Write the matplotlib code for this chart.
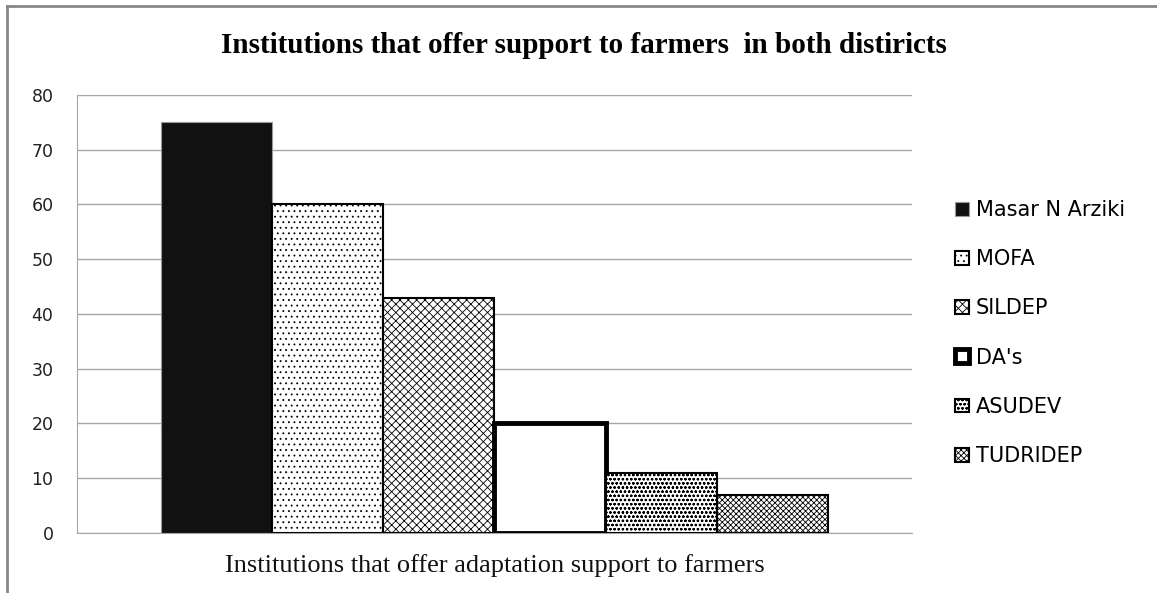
import matplotlib
matplotlib.use("Agg")
import matplotlib.pyplot as plt
from matplotlib.lines import Line2D
import numpy as np

categories = ["Masar N Arziki", "MOFA", "SILDEP", "DA's", "ASUDEV", "TUDRIDEP"]
values = [75, 60, 43, 20, 11, 7]
yticks = [0, 10, 20, 30, 40, 50, 60, 70, 80]
title = "Institutions that offer support to farmers  in both distiricts"
xlabel = "Institutions that offer adaptation support to farmers"

styles = [
    dict(facecolor="#111111", edgecolor="#999999", hatch=None, linewidth=0.8),
    dict(facecolor="white", edgecolor="black", hatch="...", linewidth=1.5),
    dict(facecolor="white", edgecolor="black", hatch="xxxx", linewidth=1.5),
    dict(facecolor="white", edgecolor="black", hatch=None, linewidth=3.5),
    dict(facecolor="white", edgecolor="black", hatch="oooo", linewidth=1.5),
    dict(facecolor="white", edgecolor="black", hatch="xxxxxx", linewidth=1.5),
]

plt.rcParams["hatch.linewidth"] = 0.6
fig = plt.figure(figsize=(11.57, 5.93), dpi=100)
ax = fig.add_axes([0.0666, 0.1012, 0.7214, 0.7386])

n = len(values)
w = 0.8 / n
for i, (v, st) in enumerate(zip(values, styles)):
    x = -0.4 + w * (i + 0.5)
    ax.bar(x, v, width=w, label=categories[i], zorder=3, **st)

ax.set_xlim(-0.5, 0.5)
ax.set_ylim(0, 80)
ax.set_yticks(yticks)
ax.set_xticks([])
ax.yaxis.grid(True, color="#a6a6a6", linewidth=1.0, zorder=0)
for s in ["top", "right"]:
    ax.spines[s].set_visible(False)
ax.spines["left"].set_color("#a6a6a6")
ax.spines["bottom"].set_color("#a6a6a6")
ax.tick_params(axis="y", length=0, pad=17, labelsize=12.5, labelcolor="#222222")
for lbl in ax.get_yticklabels():
    lbl.set_family("DejaVu Sans")

fig.text(0.505, 0.923, title, ha="center", va="center", family="Liberation Serif",
         fontweight="bold", fontsize=21)
fig.text(0.4274, 0.046, xlabel, ha="center", va="center", family="Liberation Serif",
         fontsize=19, color="#111111")

leg = ax.legend(loc="upper left", bbox_to_anchor=(1.042, 0.779), frameon=False,
                prop=dict(family="DejaVu Sans", size=15), handlelength=0.65, handleheight=0.65,
                handletextpad=0.35, labelspacing=1.4, borderaxespad=0)

fig.add_artist(Line2D([0.006, 1.0], [0.99, 0.99], color="#888888", lw=2, transform=fig.transFigure))
fig.add_artist(Line2D([0.006, 0.006], [0.0, 0.99], color="#888888", lw=2, transform=fig.transFigure))

fig.savefig("out.png", dpi=100)
